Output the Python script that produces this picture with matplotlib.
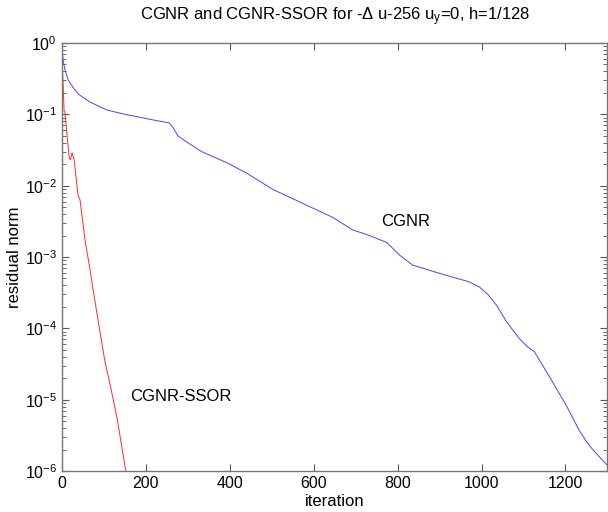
import matplotlib.pyplot as plt
from matplotlib.ticker import LogLocator, NullFormatter

plt.rcParams['font.family'] = ['Liberation Sans', 'DejaVu Sans']
plt.rcParams['mathtext.fontset'] = 'custom'
plt.rcParams['mathtext.rm'] = 'Liberation Sans'
plt.rcParams['mathtext.default'] = 'regular'

# residual history, plain CGNR
cgnr_it = [0, 3, 7, 15, 26, 40, 67, 107, 150, 186, 210, 255, 265, 276, 300, 333,
           393, 440, 502, 567, 645, 693, 733, 774, 805, 836, 900, 948,
           970, 995, 1015, 1036, 1060, 1090, 1110, 1126, 1162, 1202, 1233, 1250,
           1262, 1280, 1300]
cgnr_res = [0.85, 0.55, 0.42, 0.30, 0.24, 0.19, 0.148, 0.115, 0.100, 0.091, 0.085,
            0.076, 0.065, 0.050, 0.040, 0.030, 0.021, 0.015, 0.0089, 0.0059, 0.0036,
            0.0024, 0.0020, 0.0016, 0.00106, 0.00077, 0.00059, 0.00049,
            0.00045, 0.00038, 0.00030, 0.00021, 0.000123, 0.000072,
            0.000055, 0.000047, 0.000021, 0.0000083, 0.0000037, 0.0000026,
            0.0000021, 0.0000016, 0.0000012]

# residual history, SSOR preconditioned
ssor_it = [0, 1, 3, 5, 7, 12, 17, 20, 24, 29, 38, 43, 55, 67, 74, 86, 102, 114,
           131, 143, 152, 156]
ssor_res = [0.85, 0.45, 0.23, 0.11, 0.107, 0.051, 0.025, 0.023, 0.029, 0.023,
            0.0074, 0.0063, 0.0017, 0.00066, 0.00035, 0.00013, 0.000035, 0.000017,
            0.0000056, 0.0000021, 0.000001, 0.0000008]

yticks = [1e-6, 1e-5, 1e-4, 1e-3, 1e-2, 1e-1, 1e0]
ylabels = ['$10^{-6}$', '$10^{-5}$', '$10^{-4}$', '$10^{-3}$', '$10^{-2}$',
           '$10^{-1}$', '$10^{0}$']
xticks = [0, 200, 400, 600, 800, 1000, 1200]

fig = plt.figure(figsize=(6.08, 5.12), dpi=100)
ax = fig.add_axes([0.102, 0.080, 0.897, 0.836])

ax.semilogy(cgnr_it, cgnr_res, color='#4545ff', lw=0.7)
ax.semilogy(ssor_it, ssor_res, color='#ff2a2a', lw=0.7)

ax.set_xlim(0, 1300)
ax.set_ylim(1e-6, 1e0)
ax.set_xticks(xticks)
ax.set_yticks(yticks)
ax.set_yticklabels(ylabels)
ax.yaxis.set_minor_locator(LogLocator(base=10, subs=range(2, 10), numticks=20))
ax.yaxis.set_minor_formatter(NullFormatter())

ax.tick_params(which='both', direction='in', top=True, right=True,
               color='#555555', labelsize=11.5)
ax.tick_params(which='major', length=5)
ax.tick_params(which='minor', length=3)
for s in ax.spines.values():
    s.set_color('#777777')
    s.set_linewidth(1.0)

ax.text(760, 10**-2.50, 'CGNR', fontsize=12, va='center')
ax.text(162, 10**-4.96, 'CGNR-SSOR', fontsize=12, va='center')

ax.set_xlabel('iteration', fontsize=12, labelpad=2)
ax.set_ylabel('residual norm', fontsize=12, labelpad=2)
fig.text(335 / 608, 1 - 20 / 512,
         'CGNR and CGNR-SSOR for -\u0394 u-256 u$_{y}$=0, h=1/128',
         fontsize=12, ha='center', va='baseline')

fig.savefig('out.png', dpi=100)
